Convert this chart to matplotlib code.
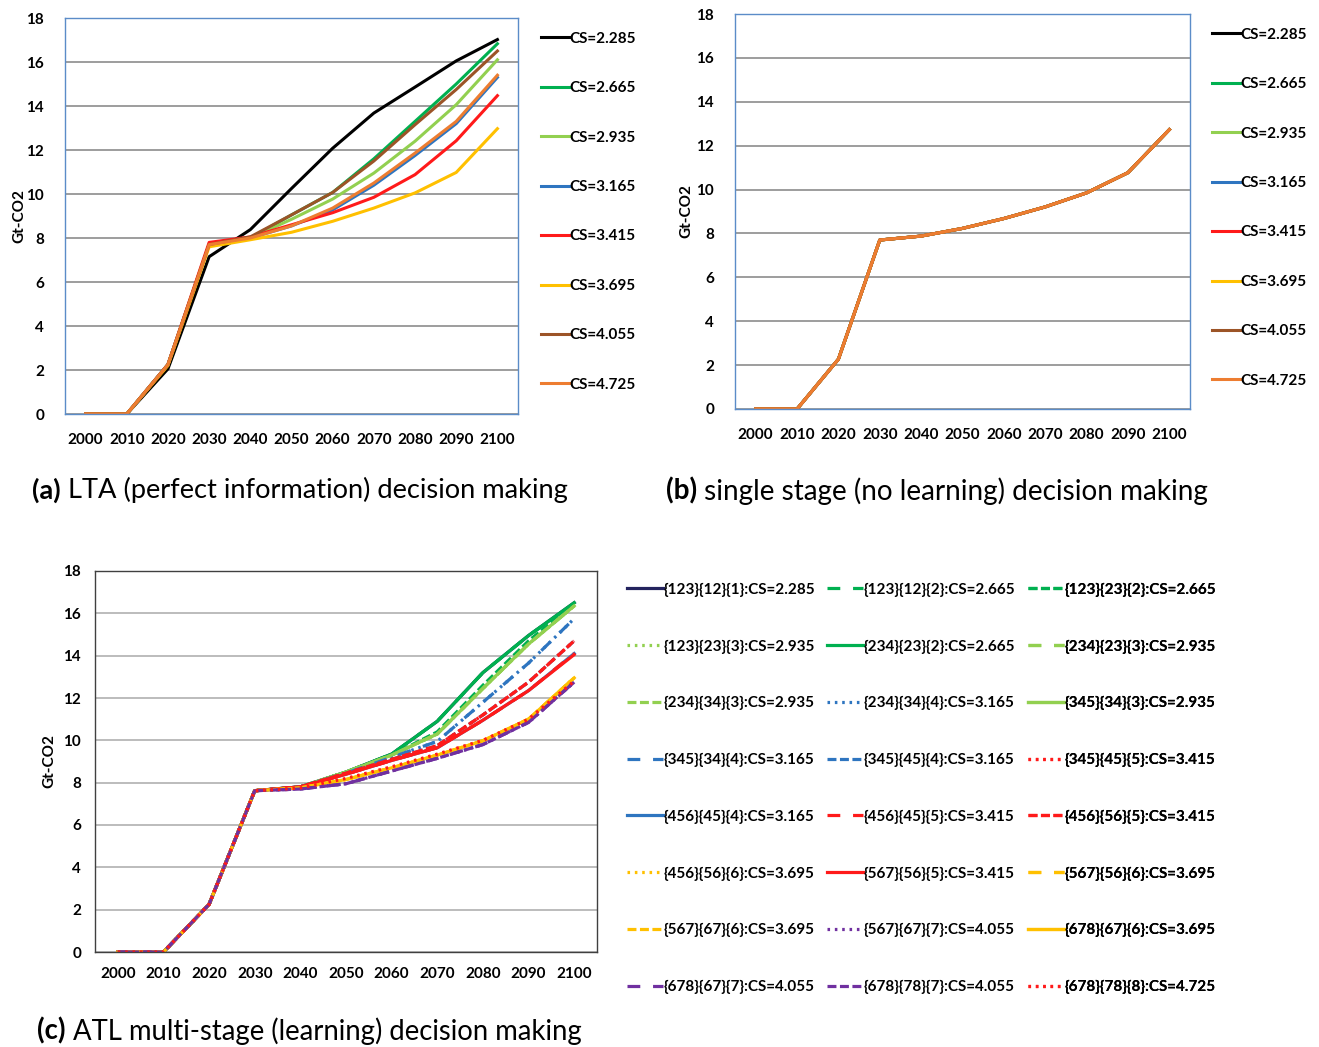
import numpy as np
import matplotlib
matplotlib.use('Agg')
import matplotlib.pyplot as plt

plt.rcParams['font.family'] = ['Lato', 'DejaVu Sans']

W, H = 1319, 1047

years = [2000, 2010, 2020, 2030, 2040, 2050, 2060, 2070, 2080, 2090, 2100]
cs_labels = ['CS=2.285', 'CS=2.665', 'CS=2.935', 'CS=3.165',
             'CS=3.415', 'CS=3.695', 'CS=4.055', 'CS=4.725']

# (a) LTA, one row per climate sensitivity
lta_cs2285 = [0, 0, 2.05, 7.15, 8.38, 10.25, 12.08, 13.68, 14.86, 16.05, 17.02]
lta_cs2665 = [0, 0, 2.25, 7.70, 8.00, 9.05, 10.07, 11.60, 13.30, 15.00, 16.83]
lta_cs2935 = [0, 0, 2.25, 7.70, 8.00, 8.85, 9.77, 10.95, 12.40, 14.06, 16.10]
lta_cs3165 = [0, 0, 2.25, 7.70, 8.00, 8.55, 9.28, 10.40, 11.75, 13.20, 15.30]
lta_cs3415 = [0, 0, 2.25, 7.80, 8.05, 8.60, 9.15, 9.85, 10.88, 12.42, 14.47]
lta_cs3695 = [0, 0, 2.20, 7.60, 7.92, 8.26, 8.76, 9.36, 10.05, 10.98, 12.97]
lta_cs4055 = [0, 0, 2.25, 7.70, 8.05, 9.05, 10.07, 11.50, 13.15, 14.75, 16.50]
lta_cs4725 = [0, 0, 2.25, 7.70, 8.00, 8.55, 9.36, 10.50, 11.86, 13.30, 15.40]
lta_rows = [lta_cs2285, lta_cs2665, lta_cs2935, lta_cs3165,
            lta_cs3415, lta_cs3695, lta_cs4055, lta_cs4725]

# (b) single stage: every CS gives the same path
single_stage = [0, 0, 2.27, 7.70, 7.88, 8.23, 8.68, 9.21, 9.85, 10.77, 12.73]

# (c) ATL multi-stage
atl_labels = [
    '{123}{12}{1}:CS=2.285', '{123}{12}{2}:CS=2.665', '{123}{23}{2}:CS=2.665',
    '{123}{23}{3}:CS=2.935', '{234}{23}{2}:CS=2.665', '{234}{23}{3}:CS=2.935',
    '{234}{34}{3}:CS=2.935', '{234}{34}{4}:CS=3.165', '{345}{34}{3}:CS=2.935',
    '{345}{34}{4}:CS=3.165', '{345}{45}{4}:CS=3.165', '{345}{45}{5}:CS=3.415',
    '{456}{45}{4}:CS=3.165', '{456}{45}{5}:CS=3.415', '{456}{56}{5}:CS=3.415',
    '{456}{56}{6}:CS=3.695', '{567}{56}{5}:CS=3.415', '{567}{56}{6}:CS=3.695',
    '{567}{67}{6}:CS=3.695', '{567}{67}{7}:CS=4.055', '{678}{67}{6}:CS=3.695',
    '{678}{67}{7}:CS=4.055', '{678}{78}{7}:CS=4.055', '{678}{78}{8}:CS=4.725',
]
atl_rows = [
    [0, 0, 2.25, 7.62, 7.80, 8.50, 9.35, 10.90, 13.20, 14.95, 16.50],
    [0, 0, 2.25, 7.62, 7.80, 8.50, 9.35, 10.90, 13.20, 14.95, 16.45],
    [0, 0, 2.25, 7.62, 7.80, 8.50, 9.30, 10.40, 12.60, 14.70, 16.45],
    [0, 0, 2.25, 7.62, 7.80, 8.50, 9.30, 10.30, 12.45, 14.55, 16.35],
    [0, 0, 2.25, 7.62, 7.80, 8.50, 9.35, 10.90, 13.20, 14.95, 16.50],
    [0, 0, 2.25, 7.62, 7.80, 8.50, 9.30, 10.30, 12.45, 14.55, 16.35],
    [0, 0, 2.25, 7.62, 7.80, 8.50, 9.30, 10.30, 12.45, 14.55, 16.35],
    [0, 0, 2.25, 7.62, 7.80, 8.45, 9.20, 9.95, 11.80, 13.65, 15.75],
    [0, 0, 2.25, 7.62, 7.80, 8.50, 9.30, 10.30, 12.45, 14.55, 16.35],
    [0, 0, 2.25, 7.62, 7.80, 8.45, 9.20, 9.95, 11.80, 13.65, 15.75],
    [0, 0, 2.25, 7.62, 7.80, 8.45, 9.10, 9.75, 11.20, 12.75, 14.70],
    [0, 0, 2.25, 7.62, 7.80, 8.45, 9.10, 9.75, 11.20, 12.75, 14.70],
    [0, 0, 2.25, 7.62, 7.80, 8.40, 9.05, 9.65, 10.95, 12.35, 14.10],
    [0, 0, 2.25, 7.62, 7.80, 8.40, 9.05, 9.65, 10.95, 12.35, 14.10],
    [0, 0, 2.25, 7.62, 7.80, 8.45, 9.10, 9.75, 11.20, 12.75, 14.70],
    [0, 0, 2.25, 7.62, 7.75, 8.15, 8.70, 9.30, 9.98, 11.00, 12.95],
    [0, 0, 2.25, 7.62, 7.80, 8.40, 9.05, 9.65, 10.95, 12.35, 14.05],
    [0, 0, 2.25, 7.62, 7.75, 8.15, 8.70, 9.30, 9.98, 11.00, 12.95],
    [0, 0, 2.25, 7.62, 7.75, 8.15, 8.70, 9.30, 9.98, 11.00, 12.95],
    [0, 0, 2.25, 7.62, 7.70, 7.95, 8.55, 9.15, 9.80, 10.85, 12.75],
    [0, 0, 2.25, 7.62, 7.75, 8.15, 8.70, 9.30, 9.98, 11.00, 12.95],
    [0, 0, 2.25, 7.62, 7.70, 7.95, 8.55, 9.15, 9.80, 10.85, 12.75],
    [0, 0, 2.25, 7.62, 7.70, 7.95, 8.55, 9.15, 9.80, 10.85, 12.75],
    [0, 0, 2.25, 7.62, 7.75, 8.20, 8.75, 9.35, 10.00, 11.00, 12.80],
]

# styles
cs_colors = ['#000000', '#00B050', '#92D050', '#2E75C0',
             '#FF1A1A', '#FFC000', '#9C5427', '#ED7D31']
NAVY, GREEN, LGREEN, BLUE = '#23235E', '#00B050', '#92D050', '#2E75C0'
RED, YELLOW, PURPLE = '#FF1A1A', '#FFC000', '#7030A0'
solid = '-'
longdash = (0, (4.0, 4.0))
dash = (0, (2.8, 1.1))
dot = (0, (0.8, 1.5))
atl_colors = [NAVY, GREEN, GREEN, LGREEN, GREEN, LGREEN, LGREEN, BLUE,
              LGREEN, BLUE, BLUE, RED, BLUE, RED, RED, YELLOW,
              RED, YELLOW, YELLOW, PURPLE, YELLOW, PURPLE, PURPLE, RED]
atl_styles = [solid, longdash, dash, dot, solid, longdash, dash, dot,
              solid, longdash, dash, dot, solid, longdash, dash, dot,
              solid, longdash, dash, dot, solid, longdash, dash, dot]


def box(left, top, right, bottom):
    return [left / W, 1 - bottom / H, (right - left) / W, (bottom - top) / H]


def style_axes(ax, frame_color, grid_color, xpad=14, ypad=15, ylabelpad=2):
    ax.set_xlim(1995, 2105)
    ax.set_ylim(0, 18)
    ax.set_xticks(years)
    ax.set_yticks(range(0, 19, 2))
    ax.tick_params(length=0, labelsize=11)
    ax.tick_params(axis='x', pad=xpad)
    ax.tick_params(axis='y', pad=ypad)
    for lab in ax.get_xticklabels() + ax.get_yticklabels():
        lab.set_fontweight('bold')
    ax.yaxis.grid(True, color=grid_color, linewidth=1.2)
    ax.set_axisbelow(True)
    for s in ax.spines.values():
        s.set_color(frame_color)
        s.set_linewidth(1.0)
    ax.set_ylabel('Gt-CO2', fontsize=11, fontweight='bold', labelpad=ylabelpad)


def caption(ax, x, y, tag, rest, size=19.6):
    t = ax.figure.text(x / W, 1 - y / H, tag, fontsize=size, fontweight='bold',
                       va='center', ha='left')
    ax.annotate(' ' + rest, xy=(1, 0.5), xycoords=t, va='center', ha='left',
                fontsize=size, annotation_clip=False)


fig = plt.figure(figsize=(W / 100, H / 100), dpi=100)

# (a)
ax1 = fig.add_axes(box(65, 18, 518, 414))
style_axes(ax1, '#5B8CC8', '#8C8C8C', ylabelpad=0)
for row, c, lab in zip(lta_rows, cs_colors, cs_labels):
    ax1.plot(years, row, color=c, lw=2.2, label=lab)
ax1.legend(loc='upper left', bbox_to_anchor=(533 / W, 1 - 24 / H),
           bbox_transform=fig.transFigure, frameon=False, borderpad=0,
           prop={'weight': 'bold', 'size': 11},
           handlelength=1.85, handletextpad=0.05, labelspacing=2.32)
caption(ax1, 32, 490, '(a)', 'LTA (perfect information) decision making')

# (b)
ax2 = fig.add_axes(box(735, 14, 1190, 409))
style_axes(ax2, '#5B8CC8', '#8C8C8C', ylabelpad=2)
for c, lab in zip(cs_colors, cs_labels):
    ax2.plot(years, single_stage, color=c, lw=2.2, label=lab)
ax2.legend(loc='upper left', bbox_to_anchor=(1204 / W, 1 - 20 / H),
           bbox_transform=fig.transFigure, frameon=False, borderpad=0,
           prop={'weight': 'bold', 'size': 11},
           handlelength=1.85, handletextpad=0.05, labelspacing=2.32)
caption(ax2, 666, 491, '(b)', 'single stage (no learning) decision making', size=20.1)

# (c)
ax3 = fig.add_axes(box(95, 571, 597, 952))
style_axes(ax3, '#404040', '#B0B0B0', xpad=11, ypad=10, ylabelpad=5)
handles = []
for row, c, ls, lab in zip(atl_rows, atl_colors, atl_styles, atl_labels):
    h, = ax3.plot(years, row, color=c, ls=ls, lw=2.3, label=lab)
    handles.append(h)
col_x = [619, 819, 1020]
for k in range(3):
    leg = ax3.legend(handles=handles[k::3], labels=atl_labels[k::3],
                     loc='upper left', bbox_to_anchor=(col_x[k] / W, 1 - 575 / H),
                     bbox_transform=fig.transFigure, frameon=False, borderpad=0,
                     prop={'weight': 'bold', 'size': 11},
                     handlelength=2.35, handletextpad=0.08, labelspacing=2.79)
    ax3.add_artist(leg)
caption(ax3, 37, 1031, '(c)', 'ATL multi-stage (learning) decision making', size=19.85)

fig.savefig('out.png', dpi=100)
